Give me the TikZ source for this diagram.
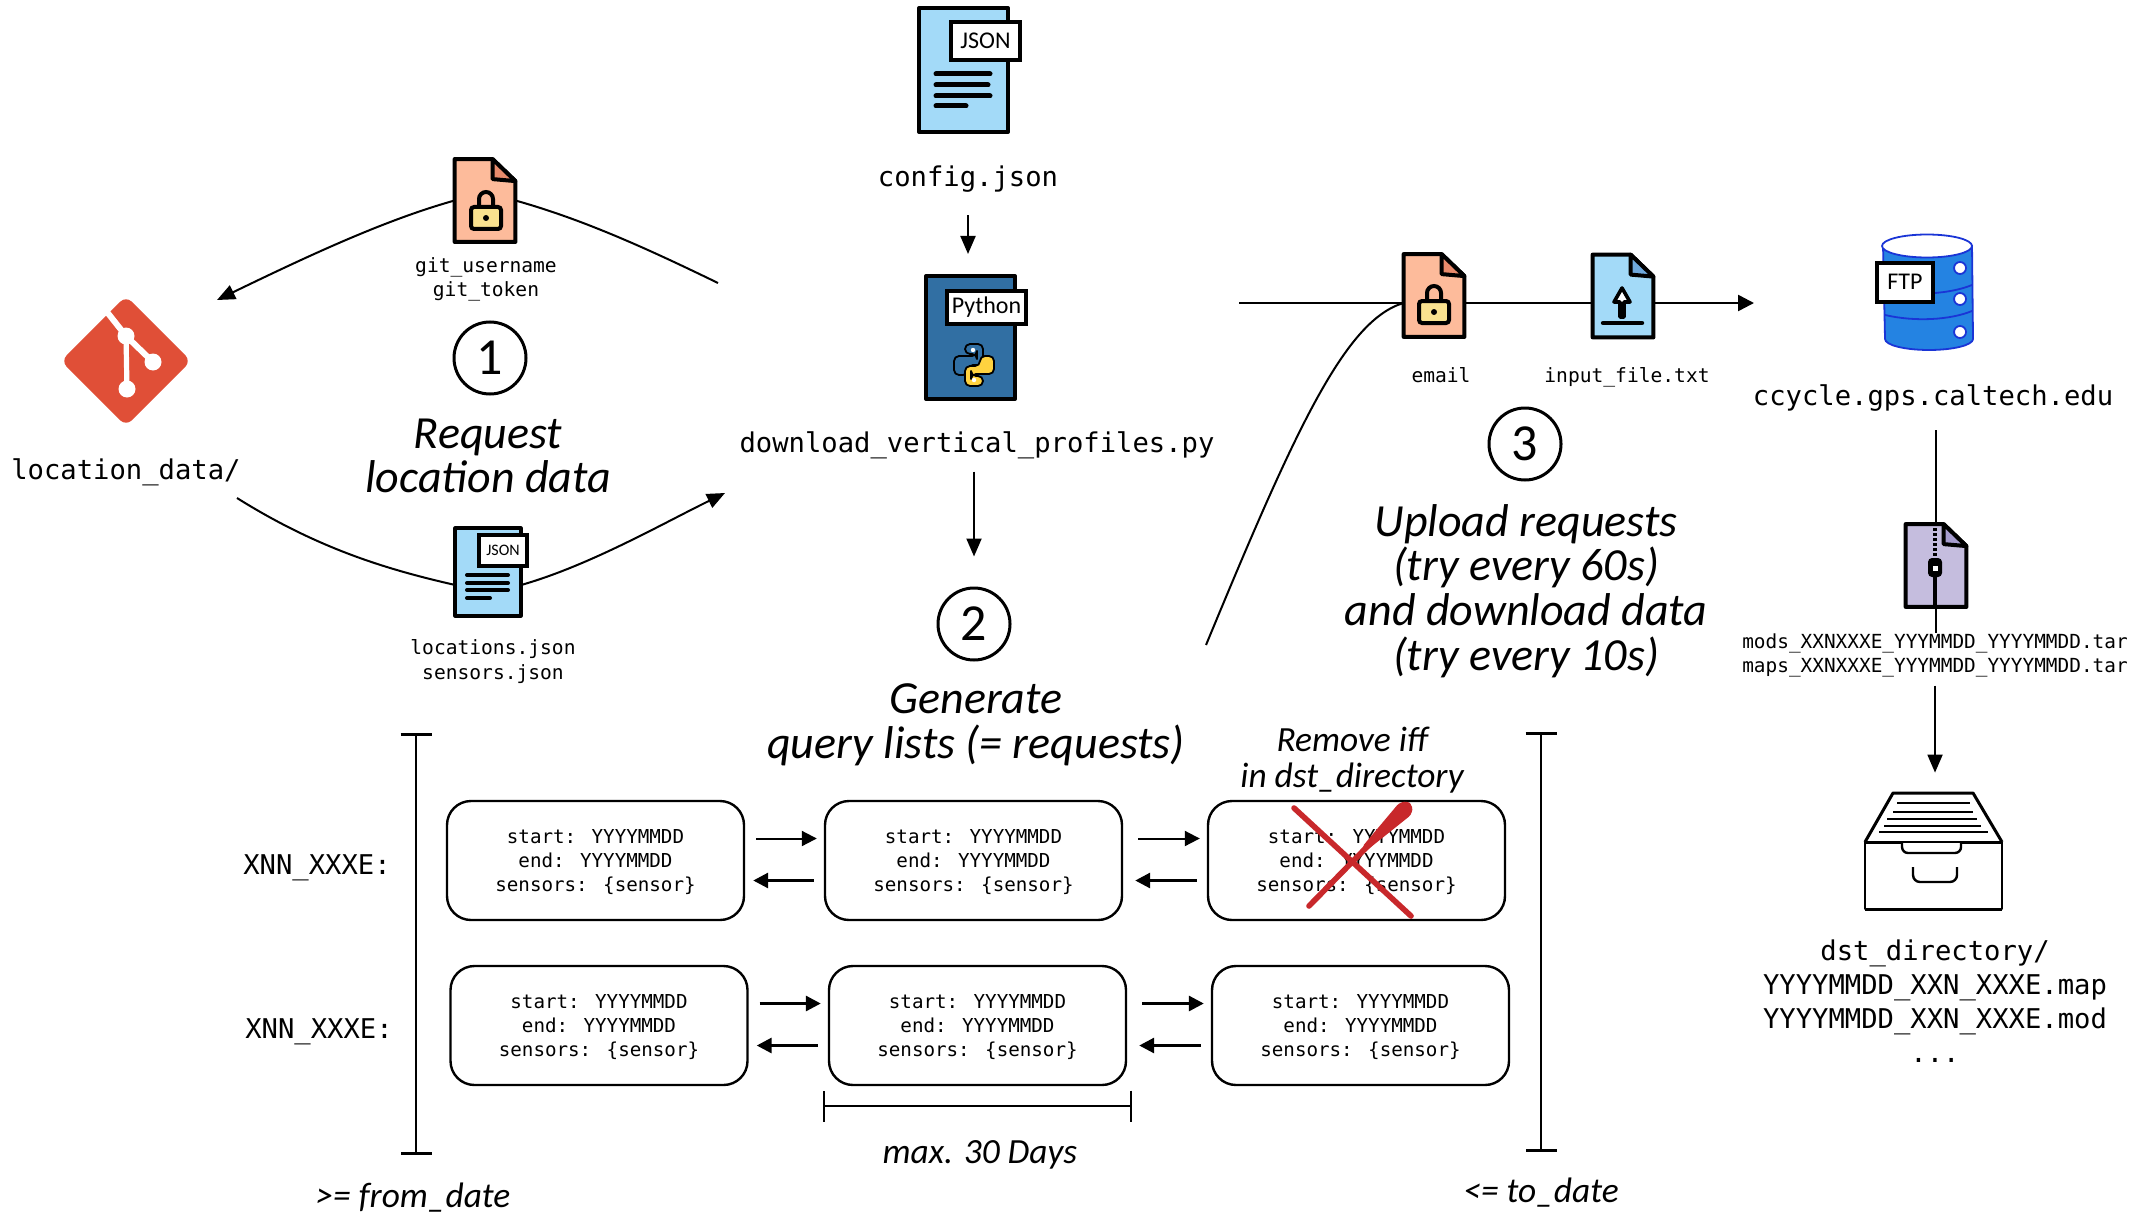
\documentclass[tikz,border=0pt]{standalone}
\usepackage{fontspec}
\usepackage{xcolor}
\usepackage{tikz}
\usetikzlibrary{arrows.meta,backgrounds,calc,positioning}
\newfontfamily\codefont{DejaVu Sans Mono}
\newfontfamily\handfont{Carlito}
\definecolor{paleblue}{HTML}{A3DAF8}
\definecolor{foldblue}{HTML}{6FA9DC}
\definecolor{paleorange}{HTML}{FDBB9B}
\definecolor{foldorange}{HTML}{E88B6C}
\definecolor{palepurple}{HTML}{C5BDDE}
\definecolor{foldpurple}{HTML}{A69CCE}
\definecolor{pyblue}{HTML}{316FA3}
\definecolor{pyyellow}{HTML}{FFD23F}
\definecolor{lockyellow}{HTML}{F9E28F}
\definecolor{gitred}{HTML}{E04F37}
\definecolor{dbblue}{HTML}{2483E2}
\definecolor{dbline}{HTML}{1A35D6}
\definecolor{crossred}{HTML}{C8282B}
\tikzset{
  flow/.style={line width=1pt,-{Triangle[length=9pt,width=7.5pt]}},
  plainflow/.style={line width=1pt},
  shortflow/.style={-{Triangle[length=7.5pt,width=7.5pt]}},
  barflow/.style={line width=1pt,{Bar[width=15.5pt,line width=1.5pt]}-{Bar[width=15.5pt,line width=1.5pt]}},
  bigcode/.style={font=\codefont\fontsize{13.6}{17}\selectfont,align=center,inner sep=0pt},
  midcode/.style={font=\codefont\fontsize{9.8}{12.2}\selectfont,align=center,inner sep=0pt},
  smallcode/.style={font=\codefont\fontsize{9.7}{12}\selectfont,align=center,inner sep=0pt},
  hand/.style={font=\handfont\itshape\fontsize{23}{22.3}\selectfont,align=center,inner sep=0pt},
  smallhand/.style={font=\handfont\itshape\fontsize{17.7}{18}\selectfont,align=center,inner sep=0pt},
  stepmark/.style={circle,draw,line width=1.5pt,minimum size=36pt,inner sep=0pt,font=\handfont\fontsize{26}{26}\selectfont},
  querybox/.style={draw,line width=1.2pt,rounded corners=12pt,minimum width=148.5pt,minimum height=59.5pt,inner sep=0pt,align=center,font=\codefont\fontsize{9.6}{12}\selectfont},
  docline/.style={draw=black,line width=2pt,line join=round},
  filetag/.style={draw,fill=white,line width=2pt,inner sep=0pt,font=\handfont\fontsize{12}{12}\selectfont},
  iconbox/.style={inner sep=0pt,minimum width=30pt,minimum height=41pt},
}
% folded page with a darker corner: name, position, fill, corner fill
\newcommand{\foldpage}[4]{%
  \node[iconbox] (#1) at (#2) {};
  \draw[docline,fill=#3] (#1.north west) -- ++(38,0) -- ($(#1.north east)+(0,22)$) -- (#1.south east) -- (#1.south west) -- cycle;
  \draw[docline,fill=#4] ($(#1.north west)+(38,0)$) -- ++(0,20) -- ($(#1.north east)+(0,22)$) -- cycle;
}
\newcommand{\lockmark}[1]{%
  \begin{scope}[shift={(#1)}]
    \draw[line width=2pt] (-7,-3) -- (-7,-11) arc (180:360:7) -- (7,-3);
    \draw[line width=2pt,fill=lockyellow,rounded corners=1.5pt] (-15,-3) rectangle (15,19);
    \fill (0,8) circle (3);
  \end{scope}
}
\begin{document}
\begin{tikzpicture}[x=.5pt,y=-.5pt]
  \useasboundingbox (0,0) rectangle (2139,1225);
  % source files in the middle
  \node[docline,fill=paleblue,minimum width=44.5pt,minimum height=62pt,inner sep=0pt] (configdoc) at (963.5,70) {};
  \node[filetag,minimum width=34.5pt,minimum height=19pt] (configtag) at (985.5,41) {JSON};
  \foreach \y/\xend in {74/990,85/988,96/990,106/966}
    \draw[line width=2.5pt,line cap=round] (936,\y) -- (\xend,\y);
  \node[bigcode] (configlabel) at (968,179.5) {config.json};

  \node[docline,fill=pyblue,minimum width=44.5pt,minimum height=61.5pt,inner sep=0pt] (pydoc) at (970.5,337.5) {};
  \node[filetag,minimum width=39.5pt,minimum height=16.5pt] (pytag) at (986.5,307.5) {Python};
  \begin{scope}[shift={(974,365)},line width=.9pt,rounded corners=2.5pt,line join=round]
    \draw[fill=pyblue] (-9,-21) -- (9,-21) -- (9,0) -- (-6,0) -- (-6,10) -- (-20,10) -- (-20,-9) -- (3,-9) -- (3,-11) -- (-9,-11) -- cycle;
    \draw[fill=pyyellow] (9,21) -- (-9,21) -- (-9,1) -- (6,1) -- (6,-9) -- (20,-9) -- (20,9) -- (-3,9) -- (-3,11) -- (9,11) -- cycle;
    \fill[white] (-1,-15) circle (2.2) (0,15) circle (2.2);
  \end{scope}
  \node[bigcode] (pylabel) at (977,445.5) {download\_vertical\_profiles.py};

  % step 1 with git
  \node[rotate=45,fill=gitred,rounded corners=4pt,minimum size=46pt,inner sep=0pt] (gitlogo) at (126,361) {};
  \draw[white,line width=3pt] (107,312) -- (126,336) -- (153,362);
  \draw[white,line width=2.6pt] (126,336) -- (127,389);
  \fill[white] (126,336) circle (8.5) (153,362) circle (8.5) (127,389) circle (8.5);
  \node[bigcode] (gitlabel) at (126,472.5) {location\_data/};

  \foldpage{tokendoc}{485,200.5}{paleorange}{foldorange}
  \lockmark{486,210}
  \node[midcode] (tokenlabel) at (486,279.5) {git\_username\\git\_token};
  \node[stepmark] (stepone) at (490,358) {1};
  \node[hand] (steponetext) at (488,456) {Request\\location data};

  \node[docline,line width=1.6pt,fill=paleblue,minimum width=33pt,minimum height=44pt,inner sep=0pt] (locdoc) at (488,572) {};
  \node[filetag,line width=1.6pt,minimum width=24pt,minimum height=15.5pt,font=\handfont\fontsize{8}{8}\selectfont] (loctag) at (503,550.5) {JSON};
  \foreach \y/\xend in {575/508,583/508,590/508,598/490}
    \draw[line width=2pt,line cap=round] (467,\y) -- (\xend,\y);
  \node[midcode] (loclabel) at (493,661.5) {locations.json\\sensors.json};

  % step 2 and the query lists
  \node[stepmark] (steptwo) at (974,624) {2};
  \node[hand] (steptwotext) at (976,725) {Generate\\query lists (= requests)};
  \node[smallhand] (removetext) at (1352,760) {Remove iff\\in dst\_directory};
  \foreach \name/\x/\y in {boxa/595.5/860.5,boxb/973.5/860.5,boxc/1356.5/860.5,boxd/599/1025.5,boxe/977.5/1025.5,boxf/1360.5/1025.5}
    \node[querybox] (\name) at (\x,\y) {\rule{0pt}{8.7pt}start: YYYYMMDD\\end: YYYYMMDD\\sensors: \{sensor\}};
  \foreach \a/\b/\s/\w in {boxa/boxb/5.5/1,boxb/boxc/7.5/1,boxd/boxe/5.5/1.5,boxe/boxf/7.5/1.5}{
    \draw[shortflow,line width=\w pt,shorten <=\s pt,shorten >=3.5pt] ([yshift=11pt]\a.east) -- ([yshift=11pt]\b.west);
    \draw[shortflow,line width=1.5pt,shorten <=5pt,shorten >=\s pt-1.5pt] ([yshift=-10pt]\b.west) -- ([yshift=-10pt]\a.east);
  }
  \draw[crossred,line width=2.8pt,line cap=round] (1294,808) -- (1411,916);
  \draw[crossred,line width=2.8pt,line cap=round] (1408,805) -- (1309,906);
  \fill[crossred,rounded corners=1.5pt] (1399,803) -- (1407,801) -- (1413,807) -- (1411,815) -- (1366,851) -- (1362,847) -- cycle;
  \node[bigcode] (rowone) at (317,867.5) {XNN\_XXXE:};
  \node[bigcode] (rowtwo) at (319,1031.5) {XNN\_XXXE:};
  \coordinate (fromtop) at (416,733);
  \coordinate (frombottom) at (416,1155);
  \draw[barflow] (fromtop) -- (frombottom);
  \node[smallhand] (fromlabel) at (413,1198) {>= from\_date};
  \coordinate (totop) at (1541,732);
  \coordinate (tobottom) at (1541,1152);
  \draw[barflow] (totop) -- (tobottom);
  \node[smallhand] (tolabel) at (1541,1193) {<= to\_date};
  \coordinate (spanleft) at (823,1106);
  \coordinate (spanright) at (1132,1106);
  \draw[line width=1pt,{Bar[width=15.5pt,line width=1pt]}-{Bar[width=15.5pt,line width=1pt]}] (spanleft) -- (spanright);
  \node[smallhand] (spanlabel) at (980,1155) {max. 30 Days};

  % step 3 with the upload
  \foldpage{maildoc}{1434,295.5}{paleorange}{foldorange}
  \lockmark{1434,304}
  \node[midcode] (maillabel) at (1441,375.5) {email};
  \foldpage{inputdoc}{1623,296}{paleblue}{foldblue}
  \begin{scope}[shift={(1622,302)}]
    \draw[line width=1.8pt,fill=white,line join=round] (-2,15) -- (-2,0) -- (-8,0) -- (0,-14) -- (8,0) -- (2,0) -- (2,15) -- cycle;
    \draw[line width=2.2pt,line cap=round] (-19,21) -- (20,21);
  \end{scope}
  \node[midcode] (inputlabel) at (1627,377) {input\_file.txt};
  \node[stepmark] (stepthree) at (1525,444) {3};
  \node[hand] (stepthreetext) at (1526,591) {Upload requests\\(try every 60s)\\and download data\\(try every 10s)};

  % ftp host
  \node[inner sep=0pt,minimum width=45pt,minimum height=58pt] (ftphost) at (1928,292) {};
  \begin{scope}[draw=dbline,line width=.9pt]
    \draw[fill=dbblue] (1883,246) -- (1885,339) arc (180:0:44 and 11) -- (1972,246) -- cycle;
    \draw[fill=white] (1927,246) ellipse (45 and 11.5);
    \draw (1885,291) .. controls (1915,296) and (1950,294) .. (1972,285);
    \draw (1885,315) .. controls (1915,322) and (1950,320) .. (1972,311);
    \foreach \y in {268,299,332}
      \draw[fill=white] (1960,\y) circle (6);
  \end{scope}
  \node[filetag,minimum width=28pt,minimum height=19.5pt] (ftptag) at (1905,282) {FTP};
  \node[bigcode] (hostlabel) at (1933,398.5) {ccycle.gps.caltech.edu};

  \foldpage{zipdoc}{1936,565.5}{palepurple}{foldpurple}
  \draw[line width=2.2pt,dash pattern=on 1.5pt off 1pt] (1935,528) -- (1935,558);
  \draw[line width=2pt] (1935,570) -- (1935,606);
  \fill[rounded corners=2pt] (1928,558) rectangle (1942,577);
  \fill[white] (1933,566) rectangle (1938,571);
  \node[smallcode] (tarlabel) at (1935,655.5) {mods\_XXNXXXE\_YYYMMDD\_YYYYMMDD.tar\\maps\_XXNXXXE\_YYYMMDD\_YYYYMMDD.tar};

  % archive drawer
  \node[inner sep=0pt,minimum width=68pt,minimum height=58pt] (archive) at (1934,851) {};
  \draw[line width=1.5pt,line join=round] (1865,842) -- (1893,793) -- (1973,793) -- (2002,842);
  \draw[line width=1.1pt,line join=round] (1865,842) rectangle (2002,909);
  \draw[line width=1.5pt] (1865,842) -- (1902,842) (1961,842) -- (2002,842);
  \draw[line width=1.5pt] (1865,909) -- (2002,909);
  \foreach \y/\xa/\xb in {803/1897/1970,812/1893/1973,819/1887/1977,826/1884/1981,832/1879/1988}
    \draw[line width=1.3pt] (\xa,\y) -- (\xb,\y);
  \draw[line width=1.2pt,rounded corners=3pt] (1902,842) -- (1902,853) -- (1961,853) -- (1961,842);
  \draw[line width=1.2pt,rounded corners=3.5pt] (1913,867) -- (1913,882) -- (1957,882) -- (1957,867);
  \node[bigcode] (archivelabel) at (1935,1001) {dst\_directory/\\YYYYMMDD\_XXN\_XXXE.map\\YYYYMMDD\_XXN\_XXXE.mod\\...};

  % connectors behind the icons
  \coordinate (pyleft) at (718,283);
  \coordinate (gitin) at (217,300);
  \coordinate (gitout) at (237,498);
  \coordinate (pyin) at (725,493);
  \coordinate (uploadstart) at (1239,303);
  \coordinate (uploadend) at (1754,303);
  \coordinate (querytail) at (1206,645);
  \begin{pgfonlayer}{background}
    \draw[plainflow] (pyleft) .. controls (650,250) and (585,220) .. (tokendoc.east);
    \draw[flow] (tokendoc.west) .. controls (385,220) and (310,255) .. (gitin);
    \draw[plainflow] (gitout) .. controls (320,550) and (390,570) .. (locdoc.200);
    \draw[flow] (locdoc.-20) .. controls (590,565) and (660,525) .. (pyin);
    \draw[flow,shorten <=11pt,shorten >=10pt] (configlabel.south) -- (configlabel.south |- pydoc.north);
    \draw[flow,shorten <=6pt,shorten >=15pt] (pylabel.south -| steptwo.north) -- (steptwo.north);
    \draw[line width=1.2pt,-{Triangle[length=8pt,width=8pt]}] (uploadstart) -- (uploadend);
    \draw[plainflow] (querytail) .. controls (1295,430) and (1345,320) .. (maildoc.west |- uploadstart);
    \draw[plainflow,shorten <=9pt] (hostlabel.south -| zipdoc.north) -- (zipdoc.north |- tarlabel.north);
    \draw[flow,shorten <=4pt,shorten >=10pt] (tarlabel.south) -- (tarlabel.south |- archive.north);
  \end{pgfonlayer}
\end{tikzpicture}
\end{document}
